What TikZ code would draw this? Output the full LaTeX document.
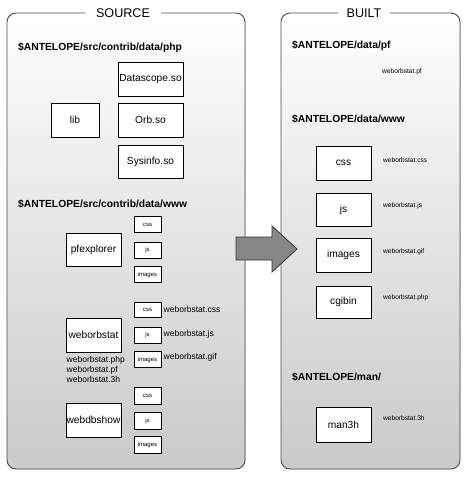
\documentclass[tikz,border=0pt]{standalone}
\usepackage{fontspec}
\setmainfont{Liberation Sans}
\begin{document}
\begin{tikzpicture}[x=1pt,y=-1pt,
  panelborder/.style={draw=black!70,line width=0.9pt,rounded corners=9pt},
  panelfill/.style={top color=white,bottom color=black!21,rounded corners=9pt},
  ttl/.style={font=\fontsize{12.6}{14}\selectfont,inner sep=0pt},
  hdr/.style={font=\bfseries\fontsize{10.3}{12}\selectfont,anchor=west,inner sep=0pt},
  bigbox/.style={draw=black,fill=white,line width=0.8pt,minimum width=55pt,minimum height=34pt,inner sep=0pt,font=\fontsize{10.2}{12}\selectfont},
  smallbox/.style={draw=black,fill=white,line width=0.8pt,minimum width=27pt,minimum height=16pt,inner sep=0pt,font=\fontsize{6}{7}\selectfont},
  llab/.style={font=\fontsize{8.5}{10}\selectfont,anchor=west,inner sep=0pt},
  rlab/.style={font=\fontsize{6.6}{8}\selectfont,anchor=west,inner sep=0pt},
  arrowshape/.style={fill=black!47,draw=black!80,line width=0.8pt,line join=miter}
]
\useasboundingbox (0,0) rectangle (471,480);
% panels
\fill[panelfill] (7,13) rectangle (245,469);
\fill[panelfill] (281,13) rectangle (460,469);
\draw[panelborder] (161,13) -- (245,13) -- (245,469) -- (7,469) -- (7,13) -- (85,13);
\draw[panelborder] (390,13) -- (460,13) -- (460,469) -- (281,469) -- (281,13) -- (338,13);
\node[ttl] (source) at (123,13) {SOURCE};
\node[ttl] (built) at (364,13) {BUILT};
% arrow
\draw[arrowshape] (236,237) -- (272,237) -- (272,226) -- (297,249) -- (272,272) -- (272,260) -- (236,260) -- cycle;
% SOURCE contents
\node[hdr] (hphp) at (18,48) {\$ANTELOPE/src/contrib/data/php};
\node[bigbox,minimum width=65pt] (datascope) at (150.5,79) {Datascope.so};
\node[bigbox,minimum width=65pt] (orb) at (150.5,120) {Orb.so};
\node[bigbox,minimum width=65pt,minimum height=33pt] (sysinfo) at (150.5,161.5) {Sysinfo.so};
\node[bigbox,minimum width=48pt] (lib) at (75,120) {lib};
\node[hdr] (hwww) at (18,204) {\$ANTELOPE/src/contrib/data/www};
\node[bigbox,minimum height=33pt] (pfexplorer) at (93.5,249.5) {pfexplorer};
\node[smallbox] (pcss) at (147.5,224.7) {css};
\node[smallbox] (pjs) at (147.5,250) {js};
\node[smallbox] (pimg) at (147.5,274.7) {images};
\node[bigbox] (weborbstat) at (93.5,335) {weborbstat};
\node[smallbox,minimum height=15pt] (wcss) at (147.5,310) {css};
\node[smallbox] (wjs) at (147.5,335) {js};
\node[smallbox] (wimg) at (147.5,359.5) {images};
\node[llab] (lwcss) at (163.5,309) {weborbstat.css};
\node[llab] (lwjs) at (163.5,334) {weborbstat.js};
\node[llab] (lwgif) at (163.5,357) {weborbstat.gif};
\node[llab,anchor=north west,align=left,font=\fontsize{8.5}{10}\selectfont] (lwfiles) at (66.5,356) {weborbstat.php\\weborbstat.pf\\weborbstat.3h};
\node[bigbox] (webdbshow) at (93.5,420) {webdbshow};
\node[smallbox,minimum height=17pt] (dcss) at (147.5,395.5) {css};
\node[smallbox,minimum height=17pt] (djs) at (147.5,420.5) {js};
\node[smallbox,minimum height=17pt] (dimg) at (147.5,445) {images};
% BUILT contents
\node[hdr] (hpf) at (292,46) {\$ANTELOPE/data/pf};
\node[rlab] (lpf) at (382,72) {weborbstat.pf};
\node[hdr] (hdwww) at (292,119) {\$ANTELOPE/data/www};
\node[bigbox] (bcss) at (343.5,163) {css};
\node[rlab] (lbcss) at (383,160) {weborbstat.css};
\node[bigbox,minimum height=33pt] (bjs) at (343.5,209.5) {js};
\node[rlab] (lbjs) at (383,206) {weborbstat.js};
\node[bigbox] (bimg) at (343.5,255) {images};
\node[rlab] (lbgif) at (383,252) {weborbstat.gif};
\node[bigbox,minimum height=32pt] (bcgi) at (343.5,302) {cgibin};
\node[rlab] (lbphp) at (383,298) {weborbstat.php};
\node[hdr] (hman) at (292,377) {\$ANTELOPE/man/};
\node[bigbox,minimum height=35pt] (bman) at (343.5,424.5) {man3h};
\node[rlab] (lb3h) at (383,418) {weborbstat.3h};
\end{tikzpicture}
\end{document}
